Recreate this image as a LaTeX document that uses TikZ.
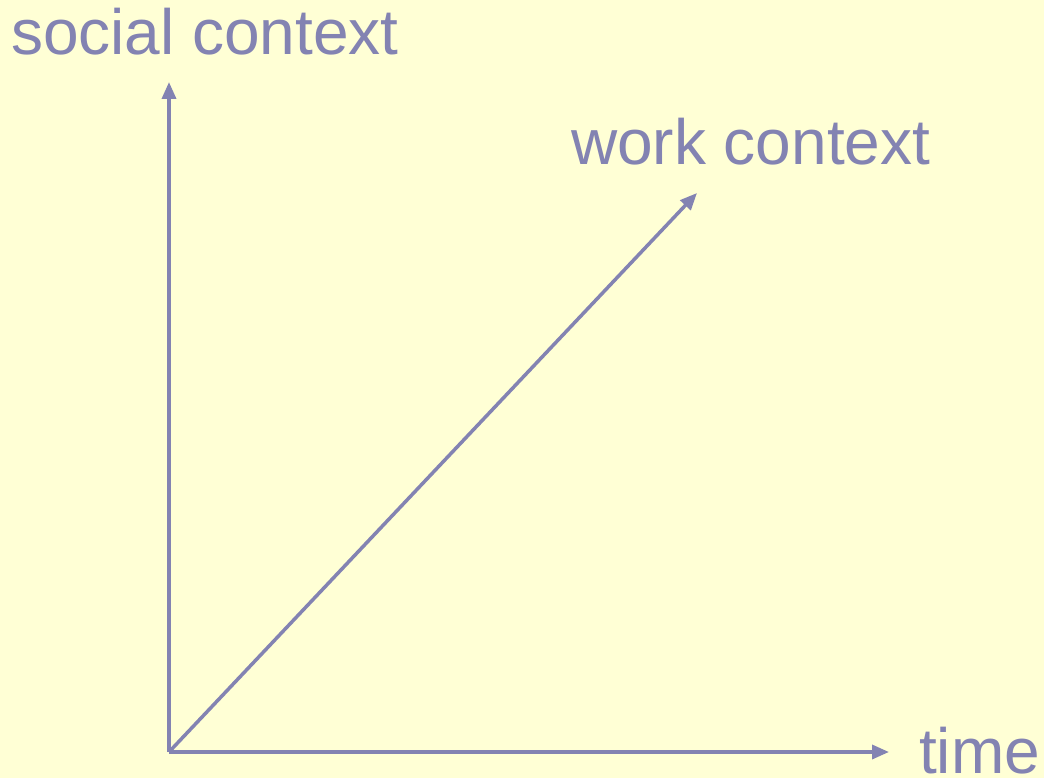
\documentclass[tikz,border=0pt]{standalone}
\usepackage{fontspec}
\setmainfont{Liberation Sans}
\usetikzlibrary{arrows.meta}
\definecolor{bgyel}{RGB}{255,255,213}
\definecolor{axcol}{RGB}{131,131,178}
\tikzset{
  axis/.style={draw=axcol, line width=3.5pt, -{Triangle[length=17pt,width=14pt]}},
  lbl/.style={text=axcol, font=\fontsize{64}{64}\selectfont, anchor=base west, inner sep=0pt, outer sep=0pt}
}
\begin{document}
\begin{tikzpicture}[x=1pt,y=-1pt]
\fill[bgyel] (0,0) rectangle (1044,778);
\useasboundingbox (0,0) rectangle (1044,778);
\coordinate (o) at (169,752);
\coordinate (ytip) at (169,82);
\coordinate (xtip) at (889,752);
\coordinate (dtip) at (697,193);
\draw[axis] (o) -- (ytip);
\draw[axis] (o) -- (xtip);
\draw[axis] (o) -- (dtip);
\node[lbl] (social) at (11,55) {social context};
\node[lbl] (work) at (571,165) {work context};
\node[lbl] (time) at (919,773) {time};
\end{tikzpicture}
\end{document}
